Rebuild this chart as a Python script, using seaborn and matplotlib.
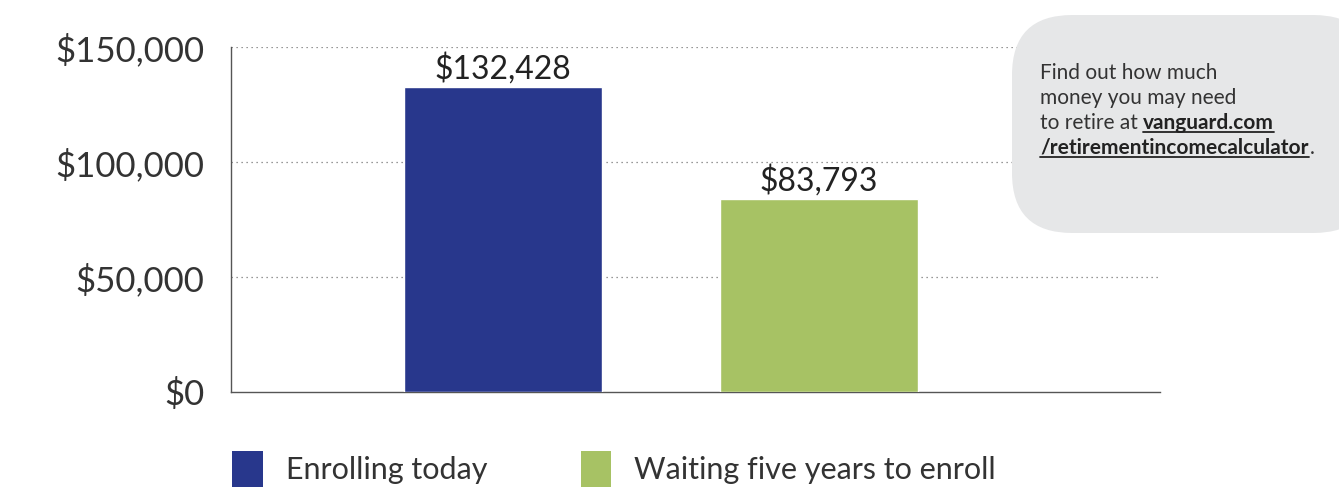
import numpy as np
import pandas as pd
import matplotlib
matplotlib.use("Agg")
import matplotlib.pyplot as plt
from matplotlib.patches import FancyBboxPatch, Patch
import seaborn as sns

sns.set_theme(style="white")
plt.rcParams['font.family'] = ['Lato', 'DejaVu Sans']

# data
categories = ["Enrolling today", "Waiting five years to enroll"]
balances = [132428, 83793]
colors = ["#28378c", "#a7c264"]
yticks = [0, 50000, 100000, 150000]
ytick_labels = ["$0", "$50,000", "$100,000", "$150,000"]

df = pd.DataFrame({"group": categories, "balance": balances})

fig = plt.figure(figsize=(13.39, 4.94), dpi=100)
ax = fig.add_axes([0.1725, 0.2065, 0.6938, 0.6985])

sns.barplot(data=df, x="group", y="balance", hue="group", palette=colors,
            width=0.627, dodge=False, legend=False, saturation=1, ax=ax, zorder=3)

ax.set_xlim(-0.861, 2.079)
ax.set_ylim(0, 150000)
ax.set_yticks(yticks)
ax.set_yticklabels(ytick_labels, fontsize=25, color="#333333")
ax.tick_params(axis="y", length=0, pad=19)
ax.set_xticks([])
ax.set_xlabel("")
ax.set_ylabel("")

for s in ["top", "right"]:
    ax.spines[s].set_visible(False)
for s in ["left", "bottom"]:
    ax.spines[s].set_color("#555555")
    ax.spines[s].set_linewidth(1.0)

# dotted gridlines
for y in yticks[1:]:
    ax.axhline(y, color="#777777", linestyle=(0, (1, 3)), linewidth=0.9, zorder=1)

for cont in ax.containers:
    ax.bar_label(cont, labels=["${:,}".format(int(v)) for v in cont.datavalues],
                 fontsize=23, color="#222222", padding=2)

# callout box
box = FancyBboxPatch((1012 / 1339, (494 - 233) / 494), 0.27, (233 - 15) / 494,
                     boxstyle="round,pad=0,rounding_size=0.045",
                     transform=fig.transFigure, facecolor="#e6e7e8",
                     edgecolor="none", zorder=5, mutation_aspect=2.7)
fig.add_artist(box)

fs = 15
tx = 1040 / 1339
fig.text(tx, 1 - 73 / 494, "Find out how much", fontsize=fs,
         color="#333333", va="center", zorder=6)
fig.text(tx, 1 - 98 / 494, "money you may need", fontsize=fs,
         color="#333333", va="center", zorder=6)
t1 = fig.text(tx, 1 - 123 / 494, "to retire at ", fontsize=fs,
              color="#333333", va="center", zorder=6)
fig.canvas.draw()
r = fig.canvas.get_renderer()
bb = t1.get_window_extent(r)
x_link = bb.x1 / fig.bbox.width
link1 = fig.text(x_link, 1 - 123 / 494, "vanguard.com", fontsize=fs,
                 fontweight="bold", color="#222222", va="center", zorder=6)
link2 = fig.text(tx, 1 - 148 / 494, "/retirementincomecalculator", fontsize=fs,
                 fontweight="bold", color="#222222", va="center", zorder=6)
fig.canvas.draw()
for lk in [link1, link2]:
    b = lk.get_window_extent(r)
    yy = (b.y0 + 1) / fig.bbox.height
    fig.add_artist(plt.Line2D([b.x0 / fig.bbox.width, b.x1 / fig.bbox.width],
                              [yy, yy], transform=fig.transFigure,
                              color="#222222", linewidth=1.3, zorder=6))
b2 = link2.get_window_extent(r)
fig.text((b2.x1 + 1) / fig.bbox.width, 1 - 148 / 494, ".", fontsize=fs,
         color="#333333", va="center", zorder=6)

# legend
handles = [Patch(facecolor=c, edgecolor="none") for c in colors]
fig.legend(handles, categories, loc="lower left", bbox_to_anchor=(0.153, -0.042),
           ncol=2, frameon=False, fontsize=22, handlelength=1.0, handleheight=1.45,
           columnspacing=3.05, handletextpad=0.75, labelcolor="#333333")

fig.savefig("out.png", dpi=100)
